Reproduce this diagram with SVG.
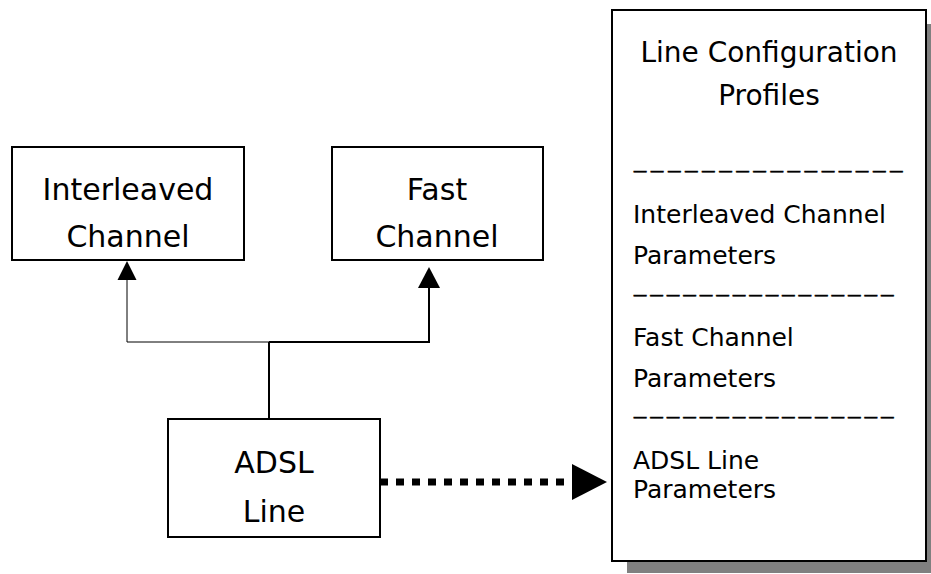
<svg xmlns="http://www.w3.org/2000/svg" width="931" height="574" viewBox="0 0 931 574">
<style>
.box{fill:#fff;stroke:#000;stroke-width:2}
.lbl{font-family:"DejaVu Sans",sans-serif;font-size:30px;fill:#000;text-anchor:middle}
.title{font-family:"DejaVu Sans",sans-serif;font-size:28px;fill:#000;text-anchor:middle}
.item{font-family:"DejaVu Sans",sans-serif;font-size:25px;fill:#000}
.sep{font-family:"Liberation Sans",sans-serif;font-size:22px;fill:#000;stroke:#000;stroke-width:0.5;letter-spacing:4.25px}
</style>
<rect width="931" height="574" fill="#fff"/>
<g id="interleaved-channel">
<rect class="box" x="12" y="147" width="232" height="113"/>
<text class="lbl" x="128" y="200">Interleaved</text>
<text class="lbl" x="128" y="247">Channel</text>
</g>
<g id="fast-channel">
<rect class="box" x="332" y="147" width="211" height="113"/>
<text class="lbl" x="437" y="200">Fast</text>
<text class="lbl" x="437" y="247">Channel</text>
</g>
<g id="adsl-line">
<rect class="box" x="168" y="419" width="212" height="118"/>
<text class="lbl" x="274" y="473">ADSL</text>
<text class="lbl" x="274" y="522">Line</text>
</g>
<g id="line-configuration-profiles">
<rect x="627" y="24" width="314" height="549" fill="#808080"/>
<rect class="box" x="612" y="10" width="314" height="551"/>
<text class="title" x="769" y="62">Line Configuration</text>
<text class="title" x="769" y="105">Profiles</text>
<text class="sep" x="634" y="168" style="letter-spacing:4.85px">________________</text>
<text class="item" x="633" y="223">Interleaved Channel</text>
<text class="item" x="633" y="264">Parameters</text>
<text class="sep" x="634" y="292">________________</text>
<text class="item" x="633" y="346">Fast Channel</text>
<text class="item" x="633" y="387">Parameters</text>
<text class="sep" x="634" y="414">________________</text>
<text class="item" x="633" y="469">ADSL Line</text>
<text class="item" x="633" y="498">Parameters</text>
</g>
<g id="connectors" fill="none" stroke="#000">
<path d="M269 419 V342" stroke-width="2"/>
<path d="M269 342 H127 V279" stroke-width="1"/>
<path d="M269 342 H429 V286" stroke-width="2"/>
<polygon points="127,261 117.5,280 136.5,280" fill="#000" stroke="none"/>
<polygon points="429,267 418,288 440,288" fill="#000" stroke="none"/>
<path d="M380 482 H572" stroke-width="7" stroke-dasharray="8 8"/>
<polygon points="572,464 607,482 572,500" fill="#000" stroke="none"/>
</g>
</svg>
